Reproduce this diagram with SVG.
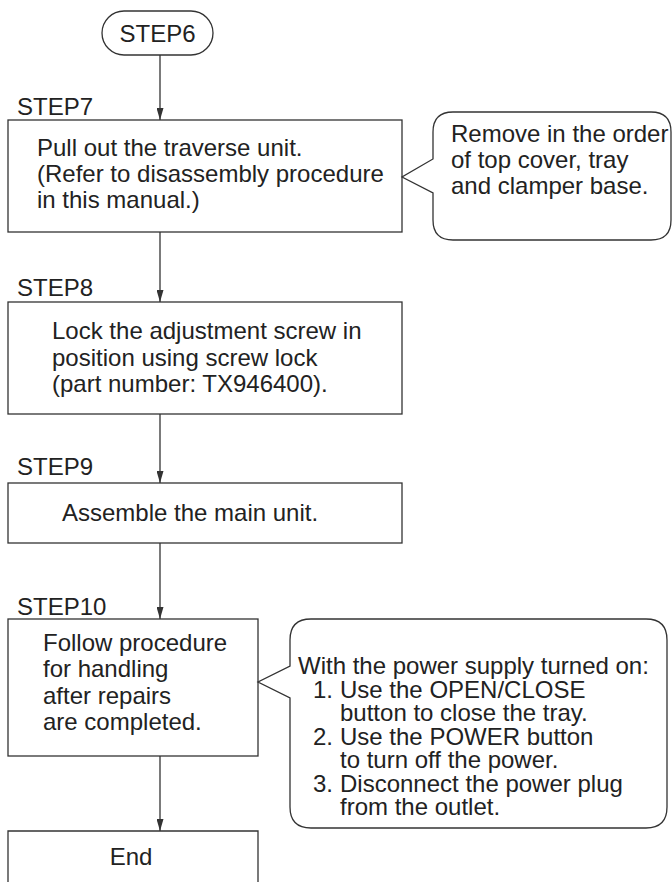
<svg xmlns="http://www.w3.org/2000/svg" width="672" height="882" viewBox="0 0 672 882">
<defs>
<style>
.box{fill:#fff;stroke:#333;stroke-width:1.3}
.t{font-family:"Liberation Sans",Arial,sans-serif;font-size:24px;fill:#222}
.c{stroke:#333;stroke-width:1.3;fill:none}
</style>
<marker id="ah" viewBox="0 0 12 7" refX="12" refY="3.5" markerWidth="12" markerHeight="7" markerUnits="userSpaceOnUse" orient="auto">
<path d="M0,0 L12,3.5 L0,7 z" fill="#333"/>
</marker>
</defs>
<rect width="672" height="882" fill="#fff"/>
<g id="connectors">
<line class="c" x1="160" y1="55" x2="160" y2="120" marker-end="url(#ah)"/>
<line class="c" x1="160" y1="232" x2="160" y2="302" marker-end="url(#ah)"/>
<line class="c" x1="160" y1="414" x2="160" y2="483" marker-end="url(#ah)"/>
<line class="c" x1="160" y1="543" x2="160" y2="619" marker-end="url(#ah)"/>
<line class="c" x1="160" y1="756" x2="160" y2="831" marker-end="url(#ah)"/>
</g>
<g id="step6">
<rect class="box" x="102" y="11" width="111" height="44" rx="22"/>
<text class="t" x="157.5" y="42" text-anchor="middle">STEP6</text>
</g>
<g id="step7">
<text class="t" x="17" y="115">STEP7</text>
<rect class="box" x="8" y="120" width="394" height="112"/>
<text class="t" x="37" y="156">Pull out the traverse unit.</text>
<text class="t" x="37" y="182">(Refer to disassembly procedure</text>
<text class="t" x="37" y="208">in this manual.)</text>
</g>
<g id="note7">
<path class="box" d="M453,112 H651 Q671,112 671,132 V220 Q671,240 651,240 H453 Q433,240 433,220 V193 L402,177 L433,159 V132 Q433,112 453,112 Z"/>
<text class="t" x="451" y="142">Remove in the order</text>
<text class="t" x="451" y="168">of top cover, tray</text>
<text class="t" x="451" y="194">and clamper base.</text>
</g>
<g id="step8">
<text class="t" x="17" y="296">STEP8</text>
<rect class="box" x="8" y="302" width="394" height="112"/>
<text class="t" x="52" y="339">Lock the adjustment screw in</text>
<text class="t" x="52" y="366">position using screw lock</text>
<text class="t" x="52" y="392">(part number: TX946400).</text>
</g>
<g id="step9">
<text class="t" x="17" y="475">STEP9</text>
<rect class="box" x="8" y="483" width="394" height="60"/>
<text class="t" x="62" y="521">Assemble the main unit.</text>
</g>
<g id="step10">
<text class="t" x="17" y="615">STEP10</text>
<rect class="box" x="8" y="619" width="250" height="137"/>
<text class="t" x="43" y="651">Follow procedure</text>
<text class="t" x="43" y="677">for handling</text>
<text class="t" x="43" y="704">after repairs</text>
<text class="t" x="43" y="730">are completed.</text>
</g>
<g id="note10">
<path class="box" d="M311,619 H646 Q667,619 667,640 V807 Q667,828 646,828 H311 Q290,828 290,807 V698 L258,682 L290,666 V640 Q290,619 311,619 Z"/>
<text class="t" x="298" y="674">With the power supply turned on:</text>
<text class="t" x="313" y="698">1.</text>
<text class="t" x="340" y="698">Use the OPEN/CLOSE</text>
<text class="t" x="340" y="721">button to close the tray.</text>
<text class="t" x="313" y="745">2.</text>
<text class="t" x="340" y="745">Use the POWER button</text>
<text class="t" x="340" y="768">to turn off the power.</text>
<text class="t" x="313" y="792">3.</text>
<text class="t" x="340" y="792">Disconnect the power plug</text>
<text class="t" x="340" y="815">from the outlet.</text>
</g>
<g id="end">
<path class="box" d="M8,890 V831 H258 V890"/>
<text class="t" x="131" y="865" text-anchor="middle">End</text>
</g>
</svg>
